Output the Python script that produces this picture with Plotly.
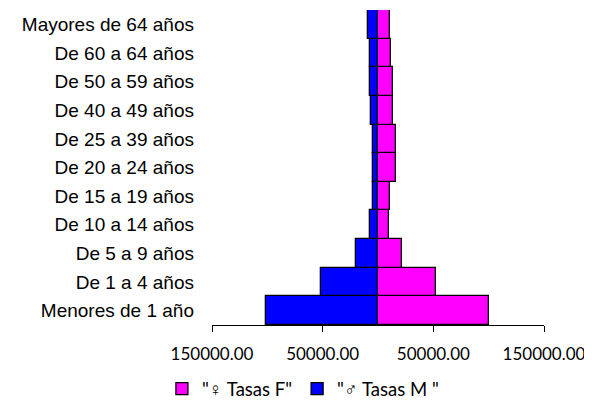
import plotly.graph_objects as go

categories = ["Menores de 1 año", "De 1 a 4 años", "De 5 a 9 años", "De 10 a 14 años",
              "De 15 a 19 años", "De 20 a 24 años", "De 25 a 39 años", "De 40 a 49 años",
              "De 50 a 59 años", "De 60 a 64 años", "Mayores de 64 años"]
tasas_f = [100300, 52700, 22000, 9900, 10800, 16600, 16600, 13600, 13600, 12000, 10800]
tasas_m = [101500, 51500, 19600, 7200, 4500, 4800, 4800, 6000, 7500, 7200, 8700]
tick_vals = [-150000, -50000, 50000, 150000]
tick_text = ["150000.00", "50000.00", "50000.00", "150000.00"]

fig = go.Figure()
fig.add_trace(go.Bar(y=categories, x=tasas_f, orientation="h", name='"♀ Tasas F"',
                     marker=dict(color="#FF00FF", line=dict(color="black", width=1.3))))
fig.add_trace(go.Bar(y=categories, x=[-v for v in tasas_m], orientation="h", name='"♂ Tasas M "',
                     marker=dict(color="#0000FF", line=dict(color="black", width=1.3))))

fig.update_layout(
    width=584, height=399,
    margin=dict(l=204, r=48, t=2, b=82, autoexpand=False),
    paper_bgcolor="white", plot_bgcolor="white",
    barmode="relative", bargap=0,
    showlegend=True,
    legend=dict(orientation="h", xref="container", x=0.505, xanchor="center",
                yref="container", y=0.045, yanchor="middle",
                font=dict(family="Lato", size=18.5, color="black"),
                itemwidth=30, traceorder="normal"),
    xaxis=dict(range=[-150000, 150000], tickvals=tick_vals, ticktext=tick_text,
               automargin=False,
               showline=True, linecolor="black", linewidth=1, ticks="outside",
               ticklen=6, tickcolor="black", showgrid=False, zeroline=False,
               tickfont=dict(family="Lato", size=17, color="black"),
               ticklabelstandoff=8),
    yaxis=dict(categoryorder="array", categoryarray=categories, range=[-0.5, 10.5],
               automargin=False,
               showline=False, ticks="", showgrid=False, zeroline=False,
               tickfont=dict(family="Liberation Sans", size=19, color="black"),
               ticklabelstandoff=17),
)

fig.write_html("out.html")
